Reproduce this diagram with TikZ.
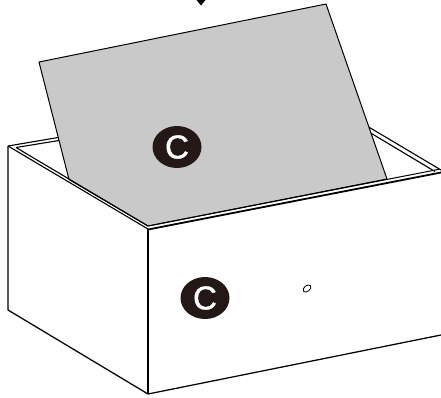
\documentclass[tikz,border=0pt]{standalone}
\usepackage{fontspec}
\setmainfont{Liberation Sans}
\newfontfamily\badgefont[FakeBold=1.2]{Liberation Sans}
\usetikzlibrary{shapes.geometric}
\definecolor{sheet}{HTML}{C9C9C9}
\definecolor{badgeink}{HTML}{231815}
\tikzset{
  edge/.style={draw=black,line width=1.25pt,line join=round},
  rim/.style={draw=black,line width=1.1pt,line join=round},
  badge/.style={ellipse,fill=badgeink,text=white,minimum width=49pt,minimum height=42pt,inner sep=0pt,font=\badgefont\fontsize{33}{33}\selectfont}
}
\begin{document}
\begin{tikzpicture}[x=1pt,y=-1pt]
\useasboundingbox (0,0) rectangle (441,397);
% inner rim behind sheet
\draw[rim] (8,146) -- (58,137.5);
\draw[rim] (16,147.5) -- (59,140.5);
\draw[rim] (367,126) -- (441,170);
\draw[rim] (369,132) -- (435,171.5);
% sheet
\filldraw[fill=sheet,draw=black,line width=1pt,line join=round]
  (39,62) -- (326,4) -- (387,179) -- (148,226) -- (69,179.5) -- cycle;
% box faces
\draw[edge] (8,146) -- (8,310) -- (148,394) -- (441,335);
\draw[line width=2pt] (148,229) -- (148,394);
% front rim
\draw[rim] (8,146) -- (148,229);
\draw[rim] (16,147.5) -- (148,226);
\draw[line width=1.8pt] (148,229.5) -- (441,172.5);
\draw[line width=1pt] (148,226) -- (439,169.3);
% hole
\draw[line width=0.8pt,rotate around={40:(307,288.5)}] (307,288.5) ellipse (4.4pt and 2.9pt);
% arrow tip
\fill (196.5,0) -- (205.5,0) -- (201,5.5) -- cycle;
\node[badge] (c1) at (177,147) {C};
\node[badge] (c2) at (205,298) {C};
\end{tikzpicture}
\end{document}
